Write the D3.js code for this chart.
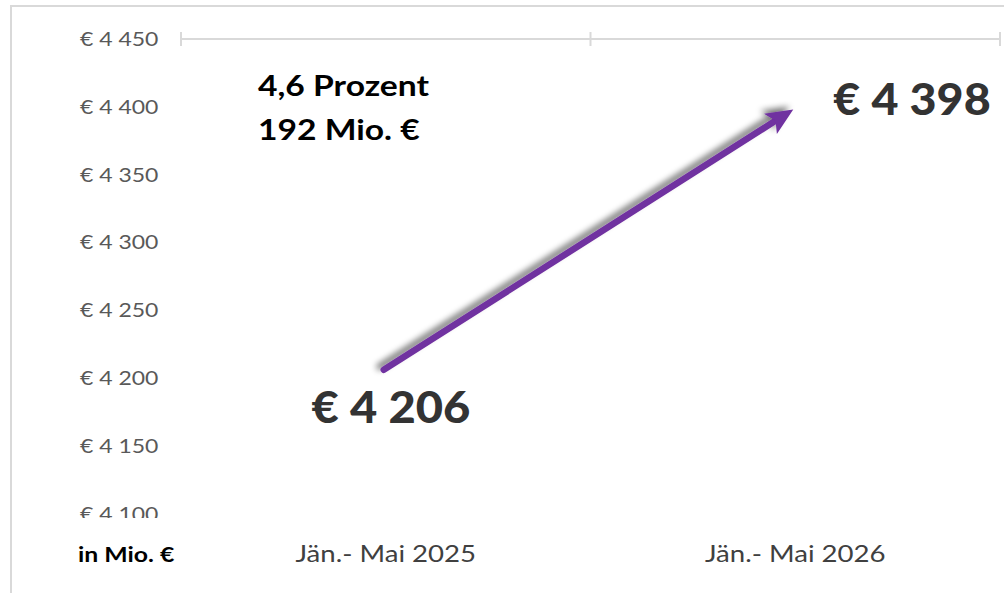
<!DOCTYPE html>
<html>
<head>
<meta charset="utf-8">
<script src="https://cdn.jsdelivr.net/npm/d3@7"></script>
<style>
  body { margin: 0; background: #fff; }
  svg { display: block; font-family: Lato, "Open Sans", sans-serif; }
</style>
</head>
<body>
<svg width="1004" height="593"></svg>
<script>
const width = 1004, height = 593;
const svg = d3.select("svg");

// data
const categories = ["Jän.- Mai 2025", "Jän.- Mai 2026"];
const values = [4206, 4398];
const yTicks = [4100, 4150, 4200, 4250, 4300, 4350, 4400, 4450];
const changeLines = ["4,6 Prozent", "192 Mio. €"];
const unitLabel = "in Mio. €";

const fmt = v => "€ " + String(v).replace(/\B(?=(\d{3})+(?!\d))/g, " ");
// place text with a slight horizontal stretch (reference font is wider)
const place = (x, y, sx) => `translate(${x},${y}) scale(${sx},1)`;

const x = d3.scaleBand().domain(categories).range([181, 1000]);
const y = d3.scaleLinear().domain([4100, 4450]).range([513.5, 39]);

// outer frame
svg.append("path")
    .attr("d", "M11,593 V6 H1004")
    .attr("fill", "none")
    .attr("stroke", "#d9d9d9")
    .attr("stroke-width", 2);

// x axis at top
const xAxis = svg.append("g")
    .attr("transform", `translate(0,${y(4450)})`);
xAxis.append("line")
    .attr("x1", x.range()[0]).attr("x2", x.range()[1])
    .attr("stroke", "#d9d9d9").attr("stroke-width", 2);
xAxis.selectAll(".tick")
    .data(categories.map(c => x(c)).concat([x.range()[1]]))
    .join("line")
    .attr("x1", d => d).attr("x2", d => d)
    .attr("y1", -7).attr("y2", 7)
    .attr("stroke", "#d9d9d9").attr("stroke-width", 2);

// y tick labels (clipped at bottom)
svg.append("clipPath").attr("id", "yclip")
    .append("rect").attr("x", 0).attr("y", 0).attr("width", 180).attr("height", 518);
svg.append("g").attr("clip-path", "url(#yclip)")
    .selectAll("text")
    .data(yTicks)
    .join("text")
    .attr("transform", d => place(80, y(d) + 7, 1.15))
    .attr("fill", "#595959")
    .style("font-size", "20px")
    .text(d => fmt(d));

// category labels
svg.selectAll(".cat")
    .data(categories)
    .join("text")
    .attr("class", "cat")
    .attr("transform", d => place(x(d) + x.bandwidth() / 2, 562, 1.15))
    .attr("text-anchor", "middle")
    .attr("fill", "#404040")
    .style("font-size", "24px")
    .text(d => d);

svg.append("text")
    .attr("transform", place(78, 562, 1.18))
    .attr("fill", "#000")
    .style("font-size", "21px")
    .style("font-weight", "bold")
    .text(unitLabel);

// arrow with shadow
const defs = svg.append("defs");
const shadow = defs.append("filter").attr("id", "shadow")
    .attr("x", "-20%").attr("y", "-20%").attr("width", "140%").attr("height", "140%");
shadow.append("feGaussianBlur").attr("in", "SourceAlpha").attr("stdDeviation", 3).attr("result", "b");
shadow.append("feOffset").attr("in", "b").attr("dx", -4).attr("dy", -3).attr("result", "o");
shadow.append("feComponentTransfer").attr("in", "o").attr("result", "s")
    .append("feFuncA").attr("type", "linear").attr("slope", 0.55);
const merge = shadow.append("feMerge");
merge.append("feMergeNode").attr("in", "s");
merge.append("feMergeNode").attr("in", "SourceGraphic");

const pts = categories.map((c, i) => [x(c) + x.bandwidth() / 2 - 2, y(values[i])]);
const [p0, p1] = pts;
const ang = Math.atan2(p1[1] - p0[1], p1[0] - p0[0]);
const headLen = 27, headW = 12;
const base = [p1[0] - headLen * Math.cos(ang), p1[1] - headLen * Math.sin(ang)];
const nx = -Math.sin(ang), ny = Math.cos(ang);

const arrow = svg.append("g").attr("filter", "url(#shadow)");
arrow.append("line")
    .attr("x1", p0[0]).attr("y1", p0[1])
    .attr("x2", base[0] + 4 * Math.cos(ang)).attr("y2", base[1] + 4 * Math.sin(ang))
    .attr("stroke", "#7030a0").attr("stroke-width", 6.5)
    .attr("stroke-linecap", "round");
arrow.append("path")
    .attr("d", `M${p1[0]},${p1[1]} L${base[0] + nx * headW},${base[1] + ny * headW} L${base[0] + 6 * Math.cos(ang)},${base[1] + 6 * Math.sin(ang)} L${base[0] - nx * headW},${base[1] - ny * headW} Z`)
    .attr("fill", "#7030a0");

// value labels
svg.append("text")
    .attr("transform", place(391, 423, 1.07))
    .attr("text-anchor", "middle")
    .attr("fill", "#333")
    .style("font-size", "44px").style("font-weight", "900")
    .text(fmt(values[0]));
svg.append("text")
    .attr("transform", place(912, 115, 1.06))
    .attr("text-anchor", "middle")
    .attr("fill", "#333")
    .style("font-size", "44px").style("font-weight", "900")
    .text(fmt(values[1]));

// change annotation
svg.selectAll(".chg")
    .data(changeLines)
    .join("text")
    .attr("class", "chg")
    .attr("transform", (d, i) => place(258, 96 + i * 44, 1.16))
    .attr("fill", "#000")
    .style("font-size", "29px").style("font-weight", "bold")
    .text(d => d);
</script>
</body>
</html>
